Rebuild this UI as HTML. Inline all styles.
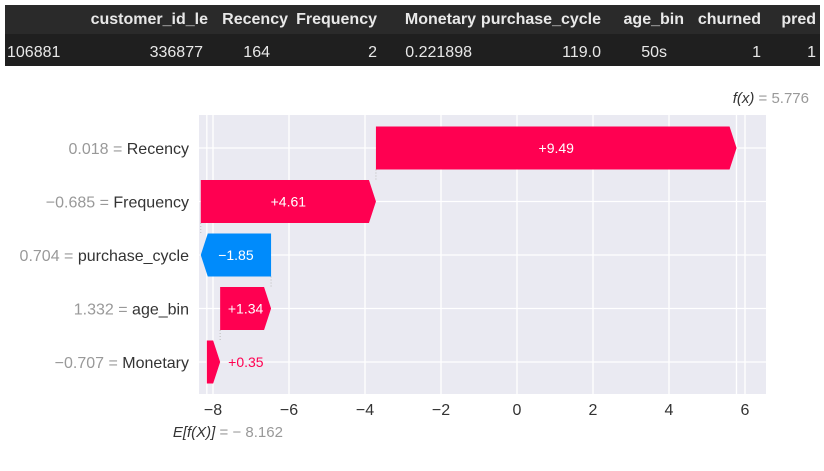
<!DOCTYPE html>
<html><head><meta charset="utf-8">
<style>
body{margin:0;background:#fff;width:824px;height:471px;overflow:hidden;font-family:"Liberation Sans",sans-serif;}
#tbl{position:absolute;left:5px;top:5px;width:815px;height:61px;background:#1f1f1f;}
#tbl .hdr{position:absolute;top:0;left:0;right:0;height:29px;background:#2a2a2a;}
#tbl span{position:absolute;color:#e8e8e8;font-size:15px;white-space:nowrap;transform:translateX(-100%);}
#tbl .h{font-weight:bold;top:6px;font-size:16px;}
#tbl .d{top:39px;font-size:16px;}
</style></head><body>
<div id="tbl">
<div class="hdr"></div>
<span class="h" style="left:203px">customer_id_le</span>
<span class="h" style="left:283px">Recency</span>
<span class="h" style="left:372px">Frequency</span>
<span class="h" style="left:471px">Monetary</span>
<span class="h" style="left:596px">purchase_cycle</span>
<span class="h" style="left:679px">age_bin</span>
<span class="h" style="left:756px">churned</span>
<span class="h" style="left:811px">pred</span>
<span class="d" style="transform:none;left:2px">106881</span>
<span class="d" style="left:198px">336877</span>
<span class="d" style="left:265px">164</span>
<span class="d" style="left:372px">2</span>
<span class="d" style="left:467px">0.221898</span>
<span class="d" style="left:596px">119.0</span>
<span class="d" style="left:662px">50s</span>
<span class="d" style="left:756px">1</span>
<span class="d" style="left:811px">1</span>
</div>
<svg id="chart" width="824" height="471" style="position:absolute;left:0;top:0"></svg>
<script>
const features=["Recency","Frequency","purchase_cycle","age_bin","Monetary"];
const featureValues=["0.018","\u22120.685","0.704","1.332","\u22120.707"];
const shapValues=[9.49,4.61,-1.85,1.34,0.35];
const baseValue=-8.162;
const fx=5.776;
const xTicks=[-8,-6,-4,-2,0,2,4,6];

const NS="http://www.w3.org/2000/svg";
const svg=document.getElementById('chart');
const X0=517,K=38,L=199,R=766,T=115,B=394,ROW0=148,ROWH=53.5,BH=43;
const xs=v=>X0+v*K;
const ys=i=>ROW0+i*ROWH;
function mk(tag,attrs,parent){const e=document.createElementNS(NS,tag);for(const k in attrs)e.setAttribute(k,attrs[k]);(parent||svg).appendChild(e);return e;}
const bg=mk('rect',{x:L,y:T,width:R-L,height:B-T,fill:'#eaeaf2'});


xTicks.forEach(t=>{
  const g=mk('line',{x1:xs(t),x2:xs(t),y1:T,y2:B,stroke:'#fff','stroke-width':1.3});
  
  
  const tx=mk('text',{x:xs(t),y:B+21,'text-anchor':'middle','font-size':16,fill:'#333'});
  tx.textContent=t<0?'\u2212'+Math.abs(t):String(t);
  
  
});
features.forEach((f,i)=>{
  const g=mk('line',{x1:L,x2:R,y1:ys(i),y2:ys(i),stroke:'#fff','stroke-width':1.3});
  
  
});
[baseValue,fx].forEach(v=>{
  const l=mk('line',{x1:xs(v),x2:xs(v),y1:T,y2:B,stroke:'#fff','stroke-width':1.3});
  
  
});
let cum=baseValue;const starts=[];
for(let i=features.length-1;i>=0;i--){starts[i]=cum;cum+=shapValues[i];}
features.forEach((f,i)=>{
  const s=starts[i],e=s+shapValues[i],pos=shapValues[i]>=0;
  const x1=xs(s),x2=xs(e),yc=ys(i),h=BH/2;
  const len=Math.abs(x2-x1);const head=Math.min(7,len);
  const dir=pos?1:-1;
  const xb=x2-dir*head;
  const pts=[[x1,yc-h],[xb,yc-h],[x2,yc],[xb,yc+h],[x1,yc+h]].map(p=>p.join(',')).join(' ');
  const col=pos?'#ff0051':'#008bfb';
  const p=mk('polygon',{points:pts,fill:col});
  
  
  const lab=(pos?'+':'\u2212')+Math.abs(shapValues[i]).toFixed(2);
  let t;
  if(len>40){t=mk('text',{x:(x1+x2)/2,y:yc+5,'text-anchor':'middle','font-size':14,fill:'#fff'});}
  else{t=mk('text',{x:Math.max(x1,x2)+8,y:yc+5,'text-anchor':'start','font-size':14,fill:col});}
  t.textContent=lab;
  
  
  const yl=mk('text',{x:189,y:yc+6,'text-anchor':'end','font-size':16});
  const a=mk('tspan',{fill:'#999'},yl);a.textContent=featureValues[i]+' = ';
  const b=mk('tspan',{fill:'#333'},yl);b.textContent=f;
  
  
});
for(let i=0;i<features.length-1;i++){
  const v=starts[i];
  const c=mk('line',{x1:xs(v),x2:xs(v),y1:ys(i)+BH/2,y2:ys(i+1)-BH/2,stroke:'#bbb','stroke-dasharray':'1,2'});
  
  
}
const fl=mk('text',{x:809,y:103,'text-anchor':'end','font-size':15});
const f1=mk('tspan',{fill:'#333','font-style':'italic'},fl);f1.textContent='f(x)';
const f2=mk('tspan',{fill:'#999'},fl);f2.textContent=' = '+fx.toFixed(3);


const el=mk('text',{x:xs(baseValue)-34,y:437,'text-anchor':'start','font-size':15});
const e1=mk('tspan',{fill:'#333','font-style':'italic'},el);e1.textContent='E[f(X)]';
const e2=mk('tspan',{fill:'#999'},el);e2.textContent=' = \u2212 '+Math.abs(baseValue).toFixed(3);


</script>
</body></html>
